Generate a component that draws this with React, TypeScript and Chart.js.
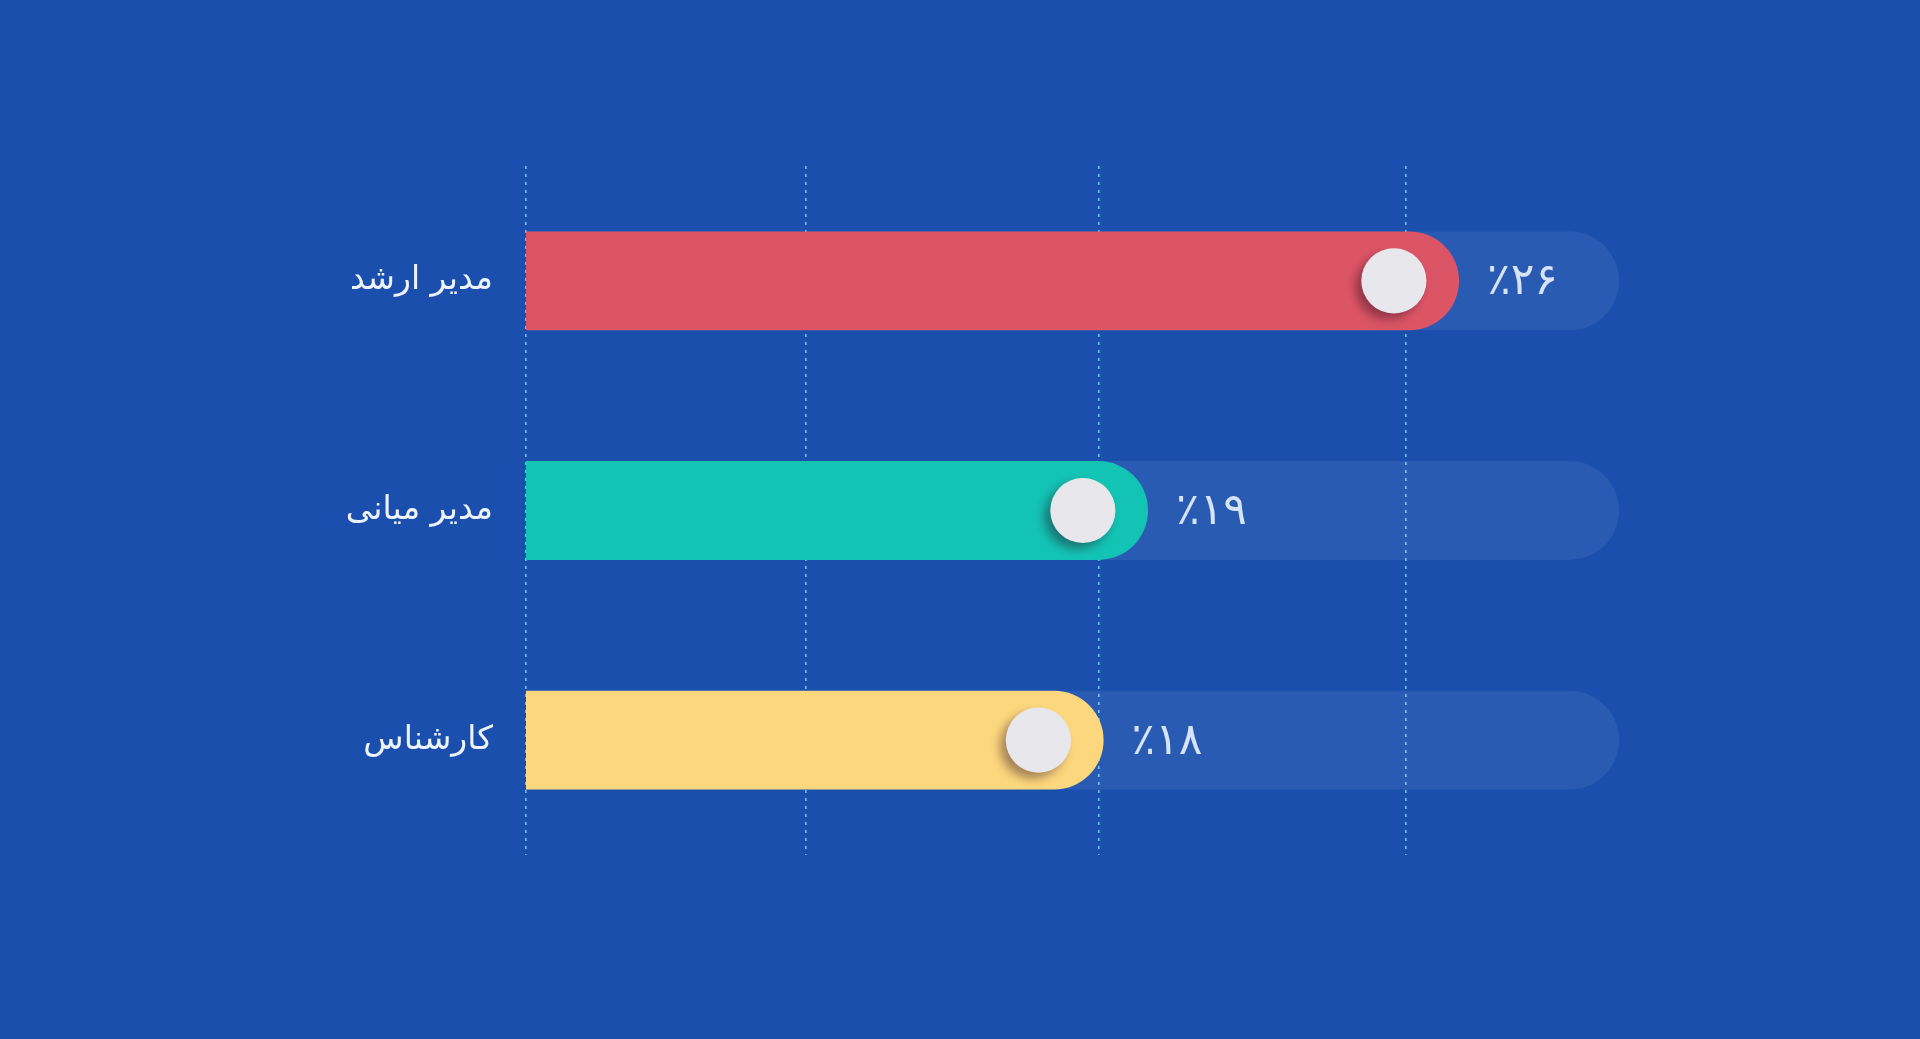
import { useEffect, useRef } from 'react';
import { Chart, registerables } from 'chart.js';

Chart.register(...registerables);

const categories = ['مدیر ارشد', 'مدیر میانی', 'کارشناس'];
const shares = [26, 19, 18];
const shareLabels = ['٪۲۶', '٪۱۹', '٪۱۸'];
const trackValues = [29.6, 29.6, 29.6];
const gridValues = [5, 11.3, 17.9, 24.8];
const barColors = ['#dc5566', '#13c3b4', '#fdd77e'];

const knobPlugin = {
  id: 'knobs',
  afterDatasetsDraw(chart: any) {
    const ctx = chart.ctx;
    const meta = chart.getDatasetMeta(0);
    meta.data.forEach((bar: any, i: number) => {
      const { x, y, height } = bar.getProps(['x', 'y', 'height'], true);
      const r = height * 0.33;
      const cx = x - height * 0.66;

      ctx.save();
      ctx.shadowColor = 'rgba(40, 10, 30, 0.4)';
      ctx.shadowBlur = 10;
      ctx.shadowOffsetX = -6;
      ctx.shadowOffsetY = 6;
      ctx.beginPath();
      ctx.arc(cx, y, r, 0, Math.PI * 2);
      ctx.fillStyle = '#e8e8ec';
      ctx.fill();
      ctx.restore();

      ctx.save();
      ctx.font = '44px "DejaVu Sans"';
      ctx.fillStyle = '#d6e4fa';
      ctx.textAlign = 'left';
      ctx.textBaseline = 'middle';
      ctx.fillText(shareLabels[i], x + 28, y + 2);
      ctx.restore();
    });
  },
};

export default function App() {
  const chartRef = useRef<HTMLCanvasElement>(null);
  const chartInstance = useRef<Chart | null>(null);

  useEffect(() => {
    if (!chartRef.current) return;
    const ctx = chartRef.current.getContext('2d');
    if (!ctx) return;

    if (chartInstance.current) {
      chartInstance.current.destroy();
    }

    chartInstance.current = new Chart(ctx, {
      type: 'bar',
      data: {
        labels: categories,
        datasets: [
          {
            label: 'سهم',
            data: shares,
            backgroundColor: barColors,
            borderRadius: 200,
            borderSkipped: 'start',
            order: 1,
          },
          {
            label: 'track',
            data: trackValues,
            backgroundColor: 'rgba(255, 255, 255, 0.07)',
            borderRadius: 200,
            borderSkipped: 'start',
            order: 2,
          },
        ],
      },
      options: {
        indexAxis: 'y',
        animation: false,
        responsive: true,
        maintainAspectRatio: false,
        datasets: {
          bar: {
            grouped: false,
            barPercentage: 0.43,
            categoryPercentage: 1,
          },
        },
        layout: {
          padding: { left: 0, right: 301, top: 166, bottom: 184 },
        },
        plugins: {
          legend: { display: false },
          tooltip: { enabled: false },
        },
        scales: {
          x: {
            min: 5,
            max: 29.6,
            afterBuildTicks: (scale: any) => {
              scale.ticks = gridValues.map((v) => ({ value: v }));
            },
            ticks: { display: false },
            grid: {
              color: 'rgba(120, 215, 250, 0.85)',
              lineWidth: 1.6,
              drawTicks: false,
            },
            border: { display: false, dash: [3, 5] },
          },
          y: {
            afterFit: (scale: any) => {
              scale.width = 526;
            },
            grid: { display: false, drawTicks: false },
            border: { display: false },
            ticks: {
              padding: 33,
              color: '#eef3ff',
              font: { family: 'DejaVu Sans', size: 33 },
            },
          },
        },
      },
      plugins: [knobPlugin],
    });

    return () => {
      if (chartInstance.current) {
        chartInstance.current.destroy();
        chartInstance.current = null;
      }
    };
  }, []);

  return (
    <div style={{ position: 'fixed', inset: 0, background: '#1a4fae' }}>
      <div style={{ position: 'relative', width: '100%', height: '100%' }}>
        <canvas ref={chartRef}></canvas>
      </div>
    </div>
  );
}
